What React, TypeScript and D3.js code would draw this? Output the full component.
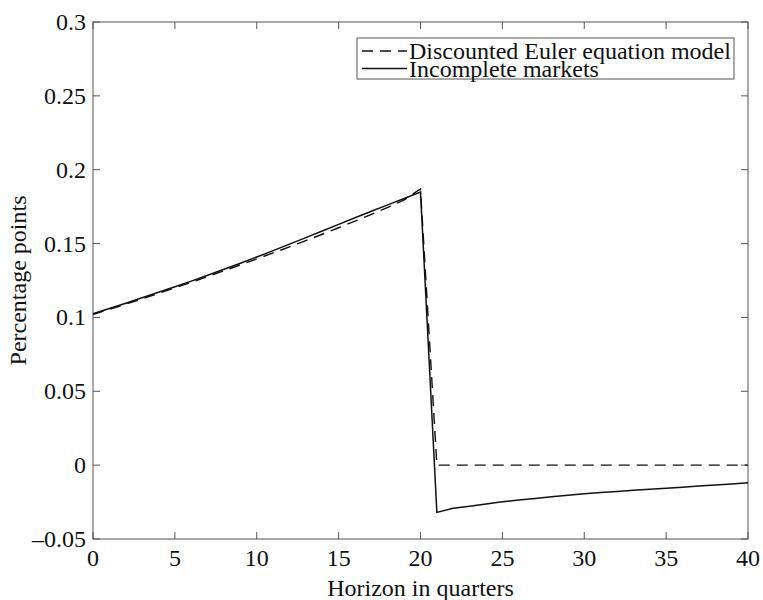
import React, { useEffect, useRef } from 'react';
import * as d3 from 'd3';

// Horizon in quarters
const quarters = d3.range(0, 41);

// Discounted Euler equation model (dashed)
const eulerValues = [
  0.1020, 0.1055, 0.1090, 0.1126, 0.1163, 0.1200, 0.1238, 0.1277, 0.1316, 0.1356,
  0.1396, 0.1437, 0.1478, 0.1520, 0.1563, 0.1607, 0.1652, 0.1698, 0.1745, 0.1796,
  0.1870, 0, 0, 0, 0, 0, 0, 0, 0, 0,
  0, 0, 0, 0, 0, 0, 0, 0, 0, 0,
  0,
];

// Incomplete markets (solid)
const incompleteValues = [
  0.1025, 0.1060, 0.1096, 0.1133, 0.1170, 0.1208, 0.1246, 0.1286, 0.1326, 0.1367,
  0.1409, 0.1452, 0.1496, 0.1540, 0.1585, 0.1630, 0.1675, 0.1719, 0.1762, 0.1805,
  0.1849, -0.0320, -0.0292, -0.0278, -0.0263, -0.0248, -0.0236, -0.0225, -0.0214, -0.0204,
  -0.0194, -0.0186, -0.0178, -0.0170, -0.0163, -0.0156, -0.0149, -0.0142, -0.0135, -0.0128,
  -0.0120,
];

const xTicks = [0, 5, 10, 15, 20, 25, 30, 35, 40];
const yTicks = [-0.05, 0, 0.05, 0.1, 0.15, 0.2, 0.25, 0.3];

const seriesNames = ['Discounted Euler equation model', 'Incomplete markets'];

export default function App() {
  const svgRef = useRef<SVGSVGElement>(null);

  useEffect(() => {
    if (!svgRef.current) return;
    const svg = d3.select(svgRef.current);
    svg.selectAll('*').remove();

    const width = 763;
    const height = 600;
    const margin = { top: 22, right: 15, bottom: 61, left: 93 };
    const font = '"Liberation Serif", "Times New Roman", serif';
    const axisColor = '#555';
    const tickLen = 7;
    const fontSize = '24px';

    const x = d3.scaleLinear().domain([0, 40]).range([margin.left, width - margin.right]);
    const y = d3.scaleLinear().domain([-0.05, 0.3]).range([height - margin.bottom, margin.top]);

    svg.attr('width', width).attr('height', height).style('font-family', font);

    const fmt = (v: number) => {
      if (Math.abs(v) < 1e-9) return '0';
      const s = String(+Math.abs(v).toFixed(2));
      return (v < 0 ? '\u2013' : '') + s;
    };

    // plot box
    svg.append('rect')
      .attr('x', x(0)).attr('y', y(0.3))
      .attr('width', x(40) - x(0)).attr('height', y(-0.05) - y(0.3))
      .attr('fill', 'none').attr('stroke', axisColor).attr('stroke-width', 1);

    // ticks, inward on all four sides
    const tickG = svg.append('g').attr('stroke', axisColor).attr('stroke-width', 1);
    xTicks.forEach(t => {
      tickG.append('line').attr('x1', x(t)).attr('x2', x(t)).attr('y1', y(-0.05)).attr('y2', y(-0.05) - tickLen);
      tickG.append('line').attr('x1', x(t)).attr('x2', x(t)).attr('y1', y(0.3)).attr('y2', y(0.3) + tickLen);
    });
    yTicks.forEach(t => {
      tickG.append('line').attr('x1', x(0)).attr('x2', x(0) + tickLen).attr('y1', y(t)).attr('y2', y(t));
      tickG.append('line').attr('x1', x(40)).attr('x2', x(40) - tickLen).attr('y1', y(t)).attr('y2', y(t));
    });

    // tick labels
    svg.append('g').selectAll('text')
      .data(xTicks)
      .join('text')
      .attr('x', d => x(d))
      .attr('y', y(-0.05) + 27)
      .attr('text-anchor', 'middle')
      .attr('fill', '#111')
      .style('font-size', fontSize)
      .text(d => String(d));

    svg.append('g').selectAll('text')
      .data(yTicks)
      .join('text')
      .attr('x', x(0) - 7)
      .attr('y', d => y(d) + 8)
      .attr('text-anchor', 'end')
      .attr('fill', '#111')
      .style('font-size', fontSize)
      .text(d => fmt(d));

    // axis titles
    svg.append('text')
      .attr('x', (x(0) + x(40)) / 2)
      .attr('y', height - 4)
      .attr('text-anchor', 'middle')
      .attr('fill', '#111')
      .style('font-size', fontSize)
      .text('Horizon in quarters');

    svg.append('text')
      .attr('transform', `translate(26,${(y(0.3) + y(-0.05)) / 2}) rotate(-90)`)
      .attr('text-anchor', 'middle')
      .attr('fill', '#111')
      .style('font-size', fontSize)
      .text('Percentage points');

    // series
    const line = d3.line<number>()
      .x((_, i) => x(quarters[i]))
      .y(d => y(d));

    svg.append('path')
      .datum(eulerValues)
      .attr('d', line)
      .attr('fill', 'none')
      .attr('stroke', '#111')
      .attr('stroke-width', 1.4)
      .attr('stroke-dasharray', '11,7');

    svg.append('path')
      .datum(incompleteValues)
      .attr('d', line)
      .attr('fill', 'none')
      .attr('stroke', '#111')
      .attr('stroke-width', 1.5);

    // legend
    const lg = svg.append('g');
    lg.append('rect')
      .attr('x', 357).attr('y', 38)
      .attr('width', 377).attr('height', 41)
      .attr('fill', '#fff').attr('stroke', axisColor).attr('stroke-width', 1);

    seriesNames.forEach((name, i) => {
      const cy = 51 + i * 17.5;
      lg.append('line')
        .attr('x1', 362).attr('x2', 407)
        .attr('y1', cy).attr('y2', cy)
        .attr('stroke', '#111')
        .attr('stroke-width', 1.4)
        .attr('stroke-dasharray', i === 0 ? '11,7' : null);
      lg.append('text')
        .attr('x', 409)
        .attr('y', cy + 8)
        .attr('fill', '#111')
        .style('font-size', fontSize)
        .text(name);
    });
  }, []);

  return (
    <div style={{ position: 'absolute', left: 0, top: 0 }}>
      <svg ref={svgRef} style={{ display: 'block' }} />
    </div>
  );
}
